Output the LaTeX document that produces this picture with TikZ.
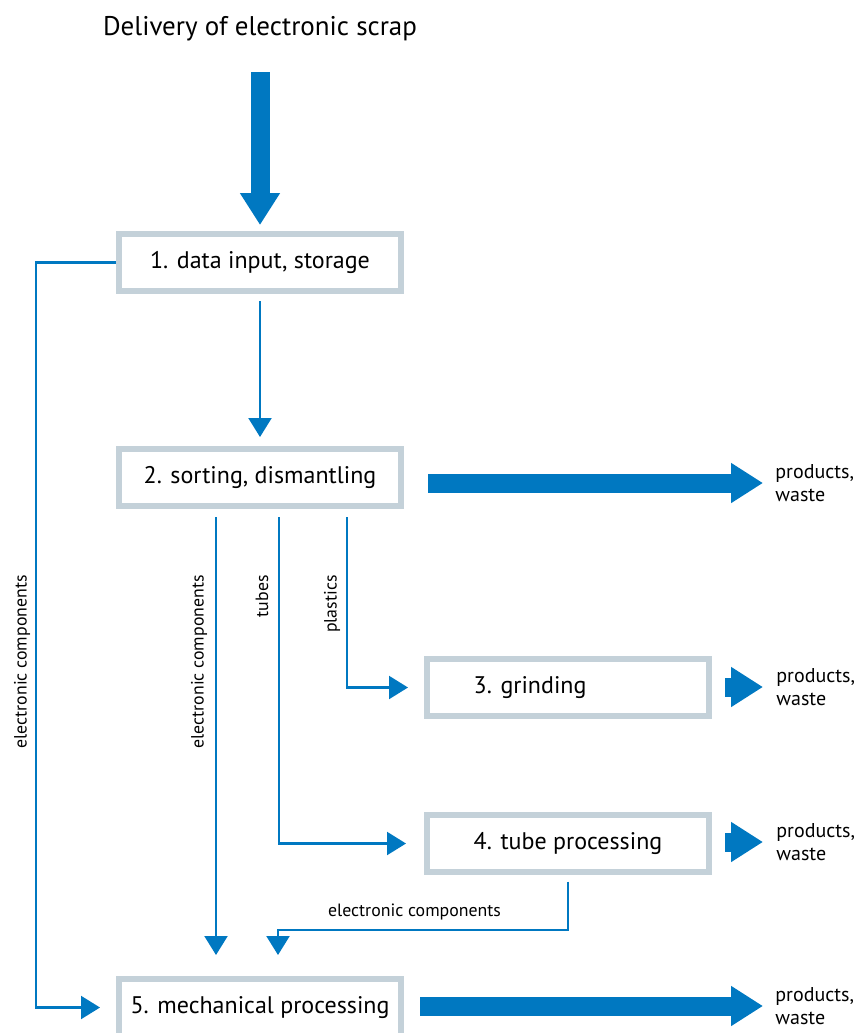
\documentclass[tikz,border=0pt]{standalone}
\usepackage{fontspec}
\setmainfont{PT Sans}
\usetikzlibrary{arrows.meta}
\definecolor{flowblue}{HTML}{0078C1}
\definecolor{boxgray}{HTML}{C4D1D9}

\begin{document}
\begin{tikzpicture}[x=0.5pt,y=-0.5pt,
  box/.style={draw=boxgray,line width=3pt,minimum width=141pt,minimum height=28.5pt,
    inner sep=0pt,font=\fontsize{12}{14}\selectfont},
  flow/.style={draw=flowblue,line width=1.1pt,-{Triangle[width=11.5pt,length=9.5pt]}},
  bigflow/.style={draw=flowblue,line width=9.5pt,-{Triangle[width=19pt,length=16pt]}},
  prod/.style={anchor=west,inner sep=0pt,align=left,font=\fontsize{10}{11.5}\selectfont},
  sidelbl/.style={rotate=90,anchor=east,inner sep=0pt,font=\fontsize{8.9}{10}\selectfont}]
  \useasboundingbox (0,0) rectangle (861,1033);

  \node (title) at (260,29) {\fontsize{13.5}{16}\selectfont Delivery of electronic scrap};
  \coordinate (feed) at (260,72);

  \node[box] (input) at (260,262.5) {1. data input, storage};
  \node[box] (sort) at (260,477.5) {2. sorting, dismantling};
  \node[box] (grind) at (568,687.5) {\rlap{3. grinding}\phantom{4. tube processing}};
  \node[box] (tube) at (568,843.5) {4. tube processing};
  \node[box] (mech) at (260,1007.5) {5. mechanical processing};

  \node[prod] (out2) at (775,483) {products,\\waste};
  \node[prod] (out3) at (776,687) {products,\\waste};
  \node[prod] (out4) at (776,842) {products,\\waste};
  \node[prod] (out5) at (775,1006) {products,\\waste};

  \draw[bigflow,shorten >=3pt] (feed) -- (input.north);
  \draw[bigflow,shorten <=12pt,shorten >=6pt] (sort.east |- out2.west) -- (out2.west);
  \draw[bigflow,shorten <=6.5pt,shorten >=6.5pt] (grind.east |- out3.west) -- (out3.west);
  \draw[bigflow,shorten <=6.5pt,shorten >=6.5pt] (tube.east |- out4.west) -- (out4.west);
  \draw[bigflow,shorten <=8pt,shorten >=6pt] (mech.east |- out5.west) -- (out5.west);

  \draw[flow,shorten <=3.5pt,shorten >=4.5pt] (input.south) -- (sort.north);
  \draw[flow,shorten >=8pt] (input.west) -- ++(-80,0) |- (mech.west);
  \draw[flow,shorten <=4pt,shorten >=10.5pt] ([xshift=-22pt]sort.south) -- ([xshift=-22pt]mech.north);
  \draw[flow,shorten <=4pt,shorten >=9pt] ([xshift=9.5pt]sort.south) |- (tube.west);
  \draw[flow,shorten <=4pt,shorten >=8pt] ([xshift=43.5pt]sort.south) |- (grind.west);
  \draw[flow,shorten <=3.25pt,shorten >=10.5pt] (tube.south) -- ++(0,55) -| ([xshift=9pt]mech.north);

  \node[sidelbl] (ecleft) at (22,575) {electronic components};
  \node[sidelbl] (ecmid) at (199,575) {electronic components};
  \node[sidelbl] (tubes) at (262,575) {tubes};
  \node[sidelbl] (plastics) at (332,575) {plastics};
  \node[font=\fontsize{8.9}{10}\selectfont] (ectube) at (414.5,912) {electronic components};
\end{tikzpicture}
\end{document}
